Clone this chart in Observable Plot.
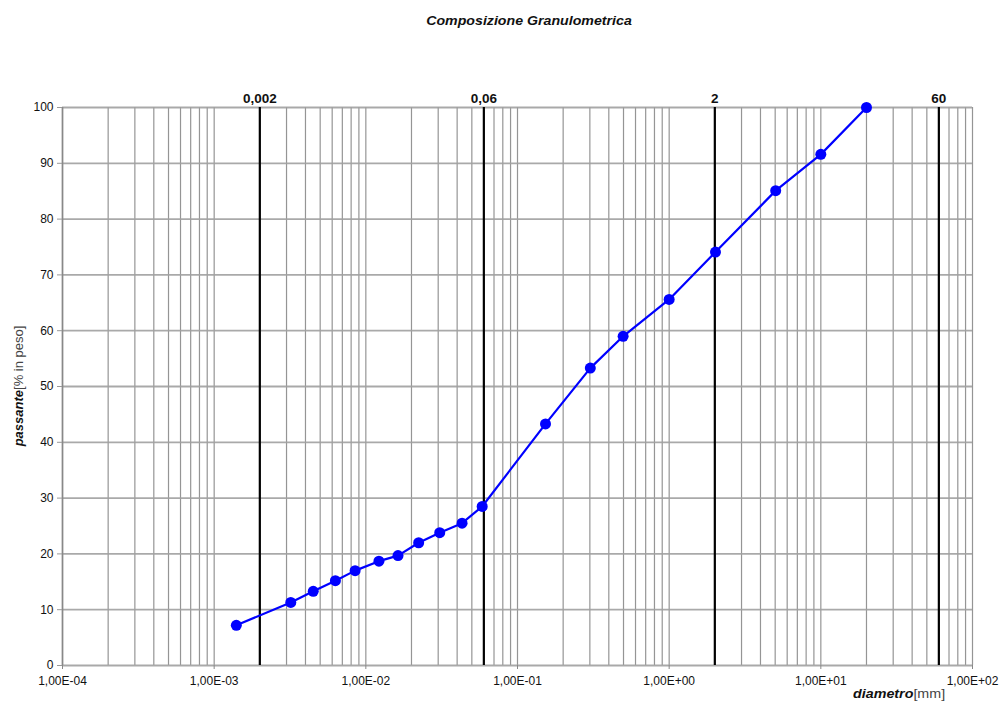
<!DOCTYPE html>
<html>
<head>
<meta charset="utf-8">
<script src="https://cdn.jsdelivr.net/npm/d3@7"></script>
<script src="https://cdn.jsdelivr.net/npm/@observablehq/plot@0.6"></script>
<style>
  body { margin: 0; background: #fff; font-family: "Liberation Sans", Arial, sans-serif; }
  #wrap { position: relative; width: 1001px; height: 703px; overflow: hidden; }
  #wrap svg { position: absolute; left: 0; top: 0; }
  .lbl { position: absolute; white-space: nowrap; color: #111; }
  #title { left: 0; width: 1058px; top: 13px; text-align: center; font-size: 13.5px; font-weight: bold; font-style: italic; transform: scaleX(1.05); transform-origin: 529px 0; }
  #ylab { left: 18px; top: 386px; transform: translate(-50%, -50%) rotate(-90deg); font-size: 13px; }
  #xlab { left: 853px; top: 686px; font-size: 13px; transform: scaleX(1.1); transform-origin: 0 0; }
  .it { font-weight: bold; font-style: italic; }
  .rg { color: #444; }
</style>
</head>
<body>
<div id="wrap">
  <div class="lbl" id="title">Composizione Granulometrica</div>
  <div class="lbl" id="ylab"><span class="it">passante</span><span class="rg">[% in peso]</span></div>
  <div class="lbl" id="xlab"><span class="it">diametro</span><span class="rg">[mm]</span></div>
</div>
<script>
// Data
const diametro = [0.0014, 0.0032, 0.0045, 0.0063, 0.0085, 0.0122, 0.0163, 0.0223, 0.0307, 0.0431, 0.0585,
                  0.153, 0.302, 0.497, 1.0, 2.02, 5.04, 10.0, 20.0];
const passante = [7.2, 11.3, 13.3, 15.2, 17.0, 18.7, 19.7, 22.0, 23.8, 25.5, 28.5,
                  43.3, 53.3, 59.0, 65.6, 74.1, 85.1, 91.6, 100];
const limiti = [0.002, 0.06, 2, 60];
const limitiLabel = ["0,002", "0,06", "2", "60"];
const xDecadi = [1e-4, 1e-3, 1e-2, 1e-1, 1e0, 1e1, 1e2];
const yTicks = [0, 10, 20, 30, 40, 50, 60, 70, 80, 90, 100];

const data = diametro.map((d, i) => ({d, p: passante[i]}));
const limData = limiti.map((v, i) => ({v, t: limitiLabel[i]}));
const minorX = d3.scaleLog().domain([1e-4, 1e2]).ticks();

const fmtE = d => {
  const e = Math.round(Math.log10(d));
  return "1,00E" + (e < 0 ? "-" : "+") + String(Math.abs(e)).padStart(2, "0");
};

const chart = Plot.plot({
  width: 1001,
  height: 703,
  marginLeft: 62,
  marginRight: 29,
  marginTop: 107,
  marginBottom: 38,
  style: { fontFamily: "'Liberation Sans', Arial, sans-serif", fontSize: "12px", color: "#111", background: "transparent" },
  x: { type: "log", domain: [1e-4, 1e2], label: null },
  y: { domain: [0, 100], label: null },
  marks: [
    Plot.ruleX(minorX, { stroke: "#8a8a8a", strokeWidth: 1.2, strokeOpacity: 0.9 }),
    Plot.ruleY(yTicks, { stroke: "#a0a0a0", strokeWidth: 1.8, strokeOpacity: 0.9 }),
    Plot.ruleX([1e-4], { stroke: "#888", strokeWidth: 1.6 }),
    Plot.ruleX(limData, { x: "v", stroke: "#000", strokeWidth: 2.2 }),
    Plot.axisX({ ticks: xDecadi, tickFormat: fmtE, tickSize: 4, tickPadding: 7, stroke: "#888", fill: "#111", fontSize: 12, label: null }),
    Plot.axisY({ ticks: yTicks, tickSize: 5, tickPadding: 4, stroke: "#999", fill: "#111", fontSize: 12, label: null }),
    Plot.text(limData, { x: "v", y: () => 100, text: "t", dy: -9, fontWeight: "bold", fontSize: 13.5, fill: "#111" }),
    Plot.line(data, { x: "d", y: "p", stroke: "#0000ff", strokeWidth: 2.2 }),
    Plot.dot(data, { x: "d", y: "p", r: 5.5, fill: "#0000ff", stroke: "none" })
  ]
});
document.getElementById("wrap").prepend(chart);
</script>
</body>
</html>
